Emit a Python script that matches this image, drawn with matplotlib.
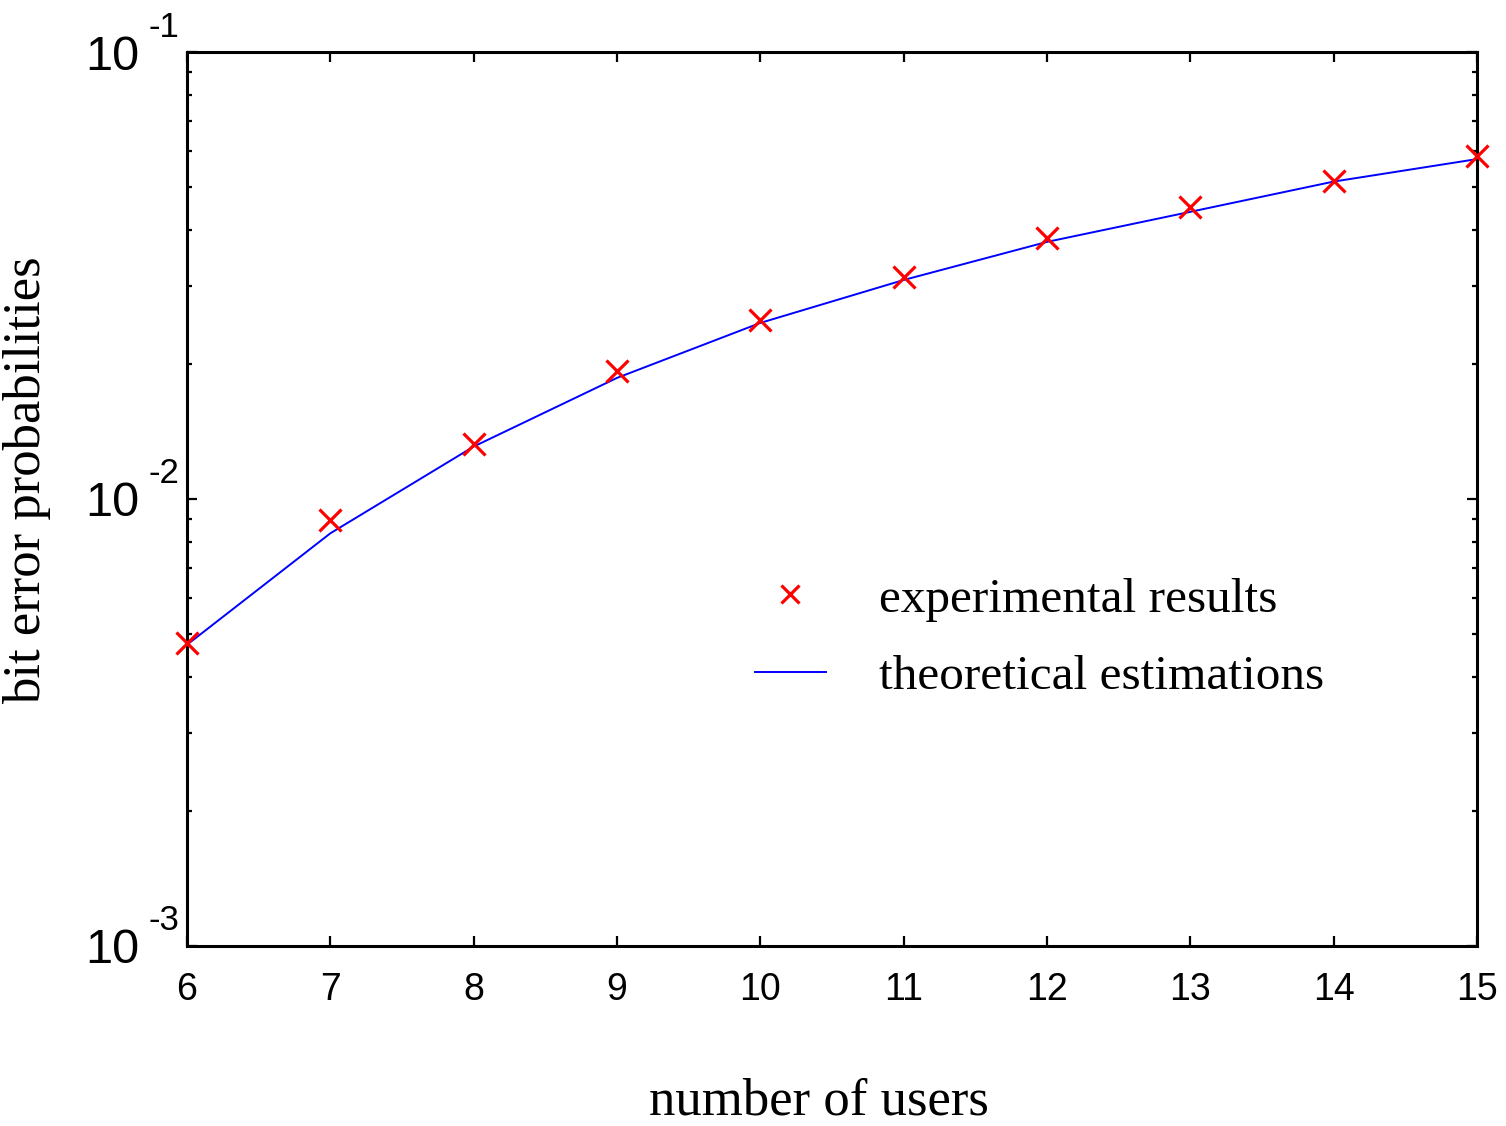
import numpy as np
import matplotlib
matplotlib.use('Agg')
import matplotlib.pyplot as plt
from matplotlib.ticker import FixedLocator, FixedFormatter, LogLocator, NullFormatter

# data
users = [6, 7, 8, 9, 10, 11, 12, 13, 14, 15]
ber_experimental = [0.00476, 0.00897, 0.01330, 0.01934, 0.02515, 0.03141, 0.03837, 0.04498, 0.05145, 0.05852]
ber_theoretical = [0.00472, 0.00838, 0.01310, 0.01866, 0.02477, 0.03090, 0.03760, 0.04390, 0.05130, 0.05760]
y_ticks = [1e-3, 1e-2, 1e-1]
y_exponents = ['-3', '-2', '-1']

fig = plt.figure(figsize=(15.06, 11.26), dpi=100)
ax = fig.add_axes([0.1242, 0.1599, 0.8565, 0.7939])

ax.plot(users, ber_experimental, linestyle='none', marker='x', color='#ff0000',
        markersize=16, markeredgewidth=2.3, label='experimental results', clip_on=False, zorder=3)
ax.plot(users, ber_theoretical, color='#0000ff', linewidth=1.4, label='theoretical estimations',
        clip_on=False, zorder=2)

ax.set_yscale('log')
ax.set_xlim(6, 15)
ax.set_ylim(1e-3, 1e-1)
ax.xaxis.set_major_locator(FixedLocator(users))
ax.yaxis.set_major_locator(FixedLocator(y_ticks))
ax.yaxis.set_major_formatter(FixedFormatter(['10'] * len(y_ticks)))
ax.yaxis.set_minor_locator(LogLocator(base=10, subs=np.arange(2, 10)))
ax.yaxis.set_minor_formatter(NullFormatter())

for s in ax.spines.values():
    s.set_linewidth(2.2)
ax.tick_params(which='both', direction='in', top=True, right=True, width=1.6)
ax.tick_params(which='major', length=7)
ax.tick_params(which='minor', length=3.5)
ax.tick_params(axis='x', pad=19, labelsize=27)
ax.tick_params(axis='y', pad=34, labelsize=35)
for lab in ax.get_xticklabels() + ax.get_yticklabels():
    lab.set_family('Liberation Sans')

# exponents of the decade labels, raised like the original
for t, e in zip(y_ticks, y_exponents):
    ax.annotate(e, xy=(0, t), xycoords=('axes fraction', 'data'), xytext=(-27.5, 18),
                textcoords='offset points', ha='left', va='center',
                family='Liberation Sans', fontsize=25, annotation_clip=False)

ax.set_xlabel('number of users', family='Liberation Serif', fontsize=38, labelpad=50)
ax.set_ylabel('bit error probabilities', family='Liberation Serif', fontsize=38, labelpad=25)
ax.xaxis.label.set_x(0.49)
ax.yaxis.label.set_y(0.521)

leg = fig.legend(loc='center left', bbox_to_anchor=(0.501, 0.4334), frameon=False,
                 prop={'family': 'Liberation Serif', 'size': 35.5}, borderpad=0, borderaxespad=0,
                 handlelength=1.45, handletextpad=1.07, labelspacing=0.66, markerscale=0.8)

fig.savefig('out.png', dpi=100)
